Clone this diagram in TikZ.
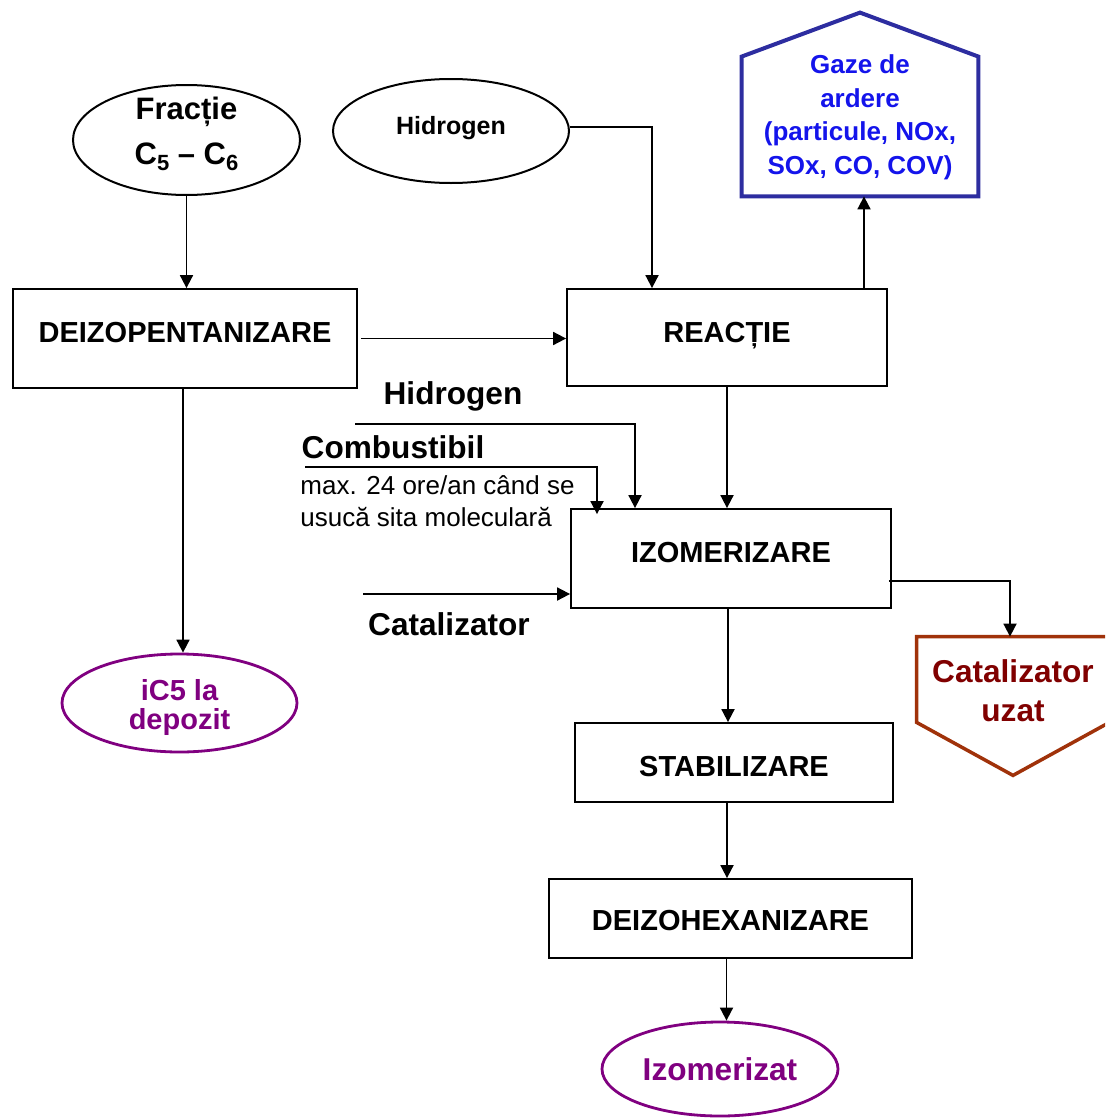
\documentclass[tikz,border=0pt]{standalone}
\usepackage{fontspec}
\setmainfont{Liberation Sans}
\usetikzlibrary{arrows.meta,shapes.geometric,calc}

\definecolor{gazeline}{RGB}{45,45,160}
\definecolor{gazetext}{RGB}{20,20,235}
\definecolor{uzatline}{RGB}{160,50,10}
\definecolor{uzattext}{RGB}{128,0,0}
\definecolor{prodcol}{RGB}{128,0,128}

% subscript in the text font
\newcommand{\lowidx}[1]{\raisebox{-0.35ex}{\fontsize{11}{11}\selectfont #1}}
% place text with its baseline shifted by #1 from the node centre, taking no room
\newcommand{\placed}[2]{\raisebox{#1}[0pt][0pt]{#2}}
\newcommand{\lines}[1]{\begin{tabular}[t]{@{}c@{}}#1\end{tabular}}

\tikzset{
  arr/.style={draw=black, line width=0.9pt, -{Triangle[length=6.5pt,width=6.5pt]}},
  stagebox/.style={draw=black, line width=0.9pt, rectangle, inner sep=0pt,
    font=\fontsize{14.5}{17}\selectfont\bfseries},
  feedoval/.style={draw=black, line width=1pt, ellipse, inner sep=0pt},
  prodoval/.style={draw=prodcol, line width=1.4pt, ellipse, inner sep=0pt,
    text=prodcol, align=center},
  sidelabel/.style={inner sep=0pt, font=\fontsize{15.8}{18}\selectfont\bfseries},
}

\begin{document}
\begin{tikzpicture}[x=0.5pt,y=-0.5pt]
\useasboundingbox (0,0) rectangle (1105,1119);
\clip (0,0) rectangle (1105,1119);

% feed streams
\node[feedoval, minimum width=113.5pt, minimum height=55pt,
  font=\fontsize{15.5}{22.5}\selectfont\bfseries] (frac) at (186.5,140)
  {\placed{10.2pt}{\lines{Fracție\\C\lowidx{5} – C\lowidx{6}}}};
\node[feedoval, minimum width=118pt, minimum height=52pt,
  font=\fontsize{12.5}{15}\selectfont\bfseries] (hid) at (451,131) {\placed{-1.6pt}{Hidrogen}};

% process stages
\node[stagebox, minimum width=172pt, minimum height=49.5pt] (deizop) at (185,338.5) {\placed{-1.95pt}{DEIZOPENTANIZARE}};
\node[stagebox, minimum width=160pt, minimum height=48.5pt] (reac) at (727,337.5) {\placed{-2.6pt}{REACȚIE}};
\node[stagebox, minimum width=160pt, minimum height=49.5pt] (izo) at (731,558.5) {\placed{-2.2pt}{IZOMERIZARE}};
\node[stagebox, minimum width=159pt, minimum height=39.5pt] (stab) at (734,762.5) {\placed{-6.95pt}{STABILIZARE}};
\node[stagebox, minimum width=181.5pt, minimum height=39.5pt] (deizoh) at (730.5,918.5) {\placed{-5.95pt}{DEIZOHEXANIZARE}};

% products
\node[prodoval, minimum width=117.5pt, minimum height=49pt,
  font=\fontsize{14.5}{14.5}\selectfont\bfseries] (ic5) at (179.5,703)
  {\placed{1.5pt}{\lines{iC5 la\\depozit}}};
\node[prodoval, minimum width=118pt, minimum height=47pt,
  font=\fontsize{15.8}{18}\selectfont\bfseries] (izm) at (720,1069) {Izomerizat};

% flue gas emission (house shape)
\node[inner sep=0pt, minimum width=118pt, minimum height=81.5pt,
  text=gazetext, font=\fontsize{13}{16.75}\selectfont\bfseries] (gaze) at (860,114.5)
  {\placed{20.5pt}{\lines{Gaze de\\ardere\\(particule, NOx,\\SOx, CO, COV)}}};
\draw[gazeline, line width=2pt, line join=miter]
  (gaze.south west) -- ([yshift=-12pt]gaze.north west) -- ([yshift=10pt]gaze.north)
  -- ([yshift=-12pt]gaze.north east) -- (gaze.south east) -- cycle;

% spent catalyst (pentagon pointing down)
\node[inner sep=0pt, minimum width=96pt, minimum height=54pt, align=center,
  text=uzattext, font=\fontsize{15.8}{19.5}\selectfont\bfseries] (uzat) at (1013,691)
  {Catalizator\\uzat};
\draw[uzatline, line width=1.75pt, line join=miter]
  (uzat.north west) -- (uzat.north east) -- ([yshift=11.5pt]uzat.south east)
  -- ([yshift=-15pt]uzat.south) -- ([yshift=11.5pt]uzat.south west) -- cycle;

% side inputs to isomerisation
\node[sidelabel] (h2lbl) at (453,396) {Hidrogen};
\node[sidelabel] (comblbl) at (393,447) {Combustibil};
\node[inner sep=0pt, anchor=west, align=left, font=\fontsize{13}{16}\selectfont] (note) at (300,501)
  {max. 24 ore/an când se\\usucă sita moleculară};
\node[sidelabel] (catlbl) at (449,624) {Catalizator};
\coordinate (h2in) at (355,424);
\coordinate (combin) at (305,467);
\coordinate (catin) at (363,594);

% main flow connectors
\draw[arr] (frac.south) -- (frac.south |- deizop.north);
\draw[arr] ([yshift=2pt]hid.east) -| ([xshift=-37.5pt]reac.north);
\draw[arr] ([xshift=1.5pt]deizop.east) -- (deizop.east -| reac.west);
\draw[arr] ([xshift=2pt]reac.north -| gaze.south) -- ([xshift=2pt]gaze.south);
\draw[arr] ([xshift=-1pt]deizop.south) -- ([xshift=-1pt]deizop.south |- ic5.north);
\draw[arr] (reac.south) -- (reac.south |- izo.north);
\draw[arr] (h2in) -| ([xshift=-48pt]izo.north);
\draw[arr] (combin) -| ([xshift=-67pt,yshift=-3pt]izo.north);
\draw[arr] (catin) -- (catin -| izo.west);
\draw[arr] ([xshift=-1.5pt,yshift=-11.25pt]izo.east) -| ([xshift=-1.5pt]uzat.north);
\draw[arr] ([xshift=-1.5pt]izo.south) -- ([xshift=-1.5pt]izo.south |- stab.north);
\draw[arr] ([xshift=-3.5pt]stab.south) -- ([xshift=-3.5pt]stab.south |- deizoh.north);
\draw[arr] ([xshift=-2pt]deizoh.south) -- ([xshift=-2pt]deizoh.south |- izm.north);
\end{tikzpicture}
\end{document}
